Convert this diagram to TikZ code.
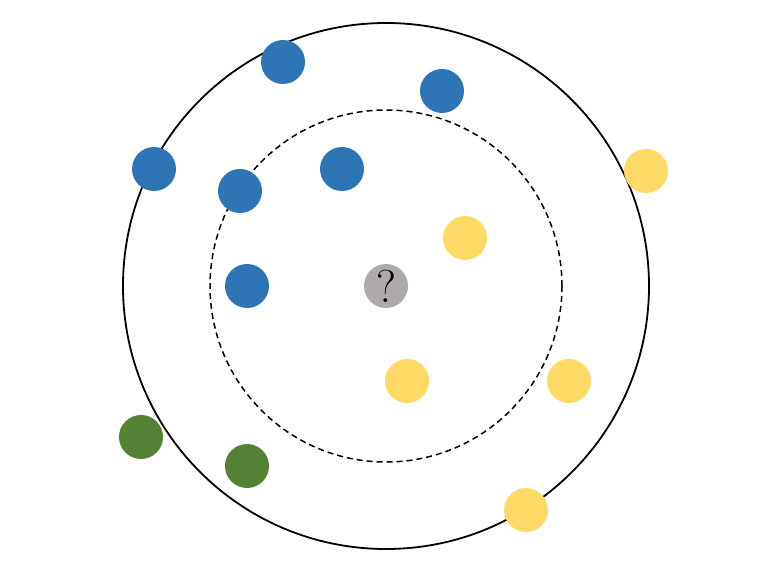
\documentclass[tikz,border=0pt]{standalone}
\usepackage{fontspec}
\definecolor{cblue}{HTML}{2E75B6}
\definecolor{cyellow}{HTML}{FFD966}
\definecolor{cgreen}{HTML}{548235}
\definecolor{cgray}{HTML}{AEAAAA}
\begin{document}
\begin{tikzpicture}[x=1pt,y=-1pt,
  dot/.style={circle,minimum size=44pt,inner sep=0pt},
  bdot/.style={dot,fill=cblue},
  ydot/.style={dot,fill=cyellow},
  gdot/.style={dot,fill=cgreen}]
\useasboundingbox (0,0) rectangle (776,577);
\node[circle,draw,line width=1.8pt,minimum size=526pt,inner sep=0pt] (outer) at (386,286) {};
\node[circle,draw,dash pattern=on 6pt off 4pt,line width=1.5pt,minimum size=352pt,inner sep=0pt] (inner) at (386,286) {};
\node[bdot] (b1) at (283,62) {};
\node[bdot] (b2) at (442,91) {};
\node[bdot] (b3) at (154,169) {};
\node[bdot] (b4) at (240,191) {};
\node[bdot] (b5) at (342,169) {};
\node[bdot] (b6) at (247,286) {};
\node[ydot] (y1) at (646,171) {};
\node[ydot] (y2) at (465,238) {};
\node[ydot] (y3) at (407,381) {};
\node[ydot] (y4) at (569,381) {};
\node[ydot] (y5) at (526,510) {};
\node[gdot] (g1) at (141,437) {};
\node[gdot] (g2) at (247,466) {};
\node[dot,fill=cgray] (q) at (386,286) {\fontsize{46}{46}\selectfont ?};
\end{tikzpicture}
\end{document}
